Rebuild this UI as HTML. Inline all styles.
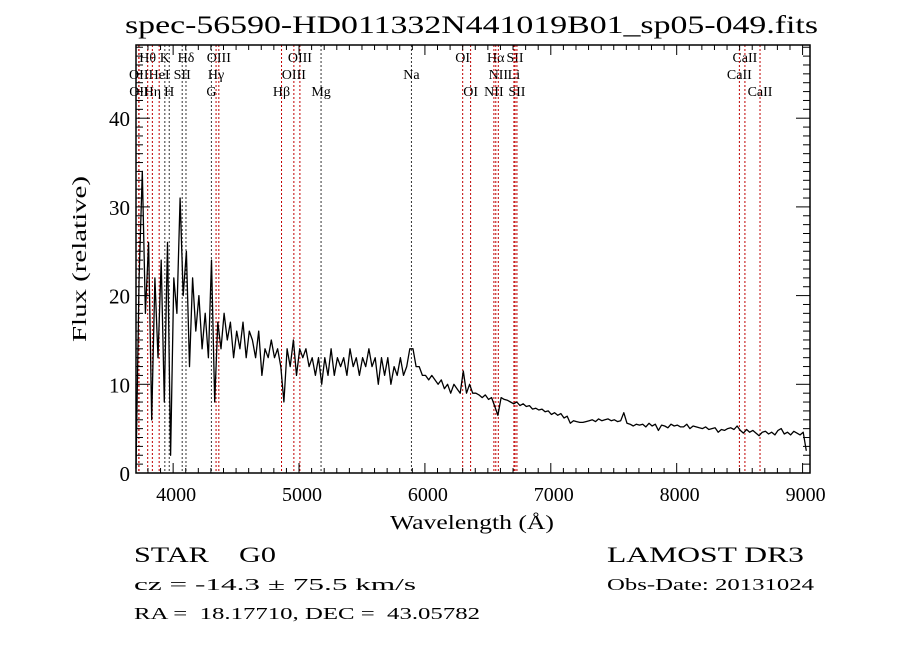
<!DOCTYPE html>
<html><head><meta charset="utf-8"><style>
html,body{margin:0;padding:0;background:#fff;}
svg{display:block;font-family:"Liberation Serif",serif;}
text{white-space:pre;}
</style></head><body>
<svg id="chart" width="900" height="649" viewBox="0 0 900 649" xmlns="http://www.w3.org/2000/svg" xml:space="preserve">
<rect x="0" y="0" width="900" height="649" fill="#fff"/>
<text x="125" y="33" font-size="25" textLength="693" lengthAdjust="spacingAndGlyphs">spec-56590-HD011332N441019B01_sp05-049.fits</text>
<g id="lines"></g>
<g id="series"></g>
<g id="axes"></g>
<text x="0" y="0" font-size="20" transform="translate(86,342) rotate(-90)" textLength="166" lengthAdjust="spacingAndGlyphs">Flux (relative)</text>
<text x="390" y="529" font-size="20" textLength="164" lengthAdjust="spacingAndGlyphs">Wavelength (Å)</text>
<text x="134" y="562" font-size="22" textLength="142" lengthAdjust="spacingAndGlyphs">STAR    G0</text>
<text x="134" y="590" font-size="17" textLength="282" lengthAdjust="spacingAndGlyphs">cz = -14.3 ± 75.5 km/s</text>
<text x="134" y="619" font-size="17" textLength="346" lengthAdjust="spacingAndGlyphs">RA =  18.17710, DEC =  43.05782</text>
<text x="607" y="562" font-size="22" textLength="197" lengthAdjust="spacingAndGlyphs">LAMOST DR3</text>
<text x="607" y="590" font-size="17" textLength="207" lengthAdjust="spacingAndGlyphs">Obs-Date: 20131024</text>
</svg>
<script>
const fluxStart = 3705;
const fluxStep = 25;
const fluxValues = [0.5,22,34,18,26,6,22,13,24,8,26,2,22,18,31,20,25,12,22,16,20,14,18,13,24,8,17,14,18,15,17,13,16,14,17,13,16,15,13,16,11,14,13,15,13,14,12,8,14,12,15,11,14,13,14,12,13,11,13,10,13,11,14,11,13,12,13,11,14,12,13,11,13,12,14,12,13,10,13,11,13,10,12,11,13,11,12,14,14,12,12,11,11,10.5,11,10.5,10,10.5,9.5,10,9,10,9.5,9,11.5,9,10,9,9,8.8,8.5,8.8,8.3,8.5,7.5,6.5,8.5,8.3,8.2,8,7.8,8,7.6,7.8,7.5,7.6,7.2,7.3,7.1,7.2,6.9,7,6.6,6.8,6.5,6.7,6.2,6.4,5.6,5.9,5.8,5.7,5.7,5.8,5.9,6.0,5.8,6.1,5.9,6.0,6.1,5.9,6.0,5.8,5.9,6.8,5.6,5.5,5.3,5.5,5.4,5.5,5.2,5.6,5.3,5.5,4.8,5.4,5.3,5.1,5.5,5.3,5.4,5.2,5.2,5.5,5.0,5.3,5.2,5.1,5.0,5.2,4.9,5.0,5.1,4.6,4.9,4.8,5.0,5.1,4.9,5.3,4.8,4.5,4.9,4.6,4.8,4.5,4.2,4.6,4.7,4.4,4.6,4.3,4.8,5.0,4.4,4.6,4.3,4.7,4.5,4.3,4.6,2.5];
const lineNames = ["Hθ","K","Hδ","OIII","OIII","OI","Hα","SII","CaII","OII","HeI","SII","Hγ","OIII","Na","NII","Li","CaII","OII","Hη","H","G","Hβ","Mg","OI","NII","SII","CaII"];
const lineWaves = [3798,3934,4102,4363,5007,6300,6563,6716,8542,3727,3889,4072,4341,4959,5893,6583,6707,8498,3729,3835,3969,4304,4861,5175,6363,6548,6731,8662];
const lineRows = [0,0,0,0,0,0,0,0,0,1,1,1,1,1,1,1,1,1,2,2,2,2,2,2,2,2,2,2];
const lineAbsorb = [0,1,1,0,0,0,0,0,0,0,0,1,0,0,1,0,0,0,0,0,1,1,0,1,0,0,0,0];
const xTicks = [4000,5000,6000,7000,8000,9000];
const yTicks = [0,10,20,30,40];

const NS="http://www.w3.org/2000/svg";
const L=136,R=810,T=45,B=473;
const X0=3705,X1=9059;
const x=w=>L+(w-X0)/(X1-X0)*(R-L);
const y=v=>473-v*8.87;
function mk(tag,attrs,parent){const e=document.createElementNS(NS,tag);for(const k in attrs)e.setAttribute(k,attrs[k]);parent.appendChild(e);return e;}

const lg=document.getElementById('lines');
const rowY=[62,79,96];
lineWaves.forEach((w,i)=>{
  const px=x(w);
  const ln=mk('line',{x1:px,y1:T,x2:px,y2:B,stroke:lineAbsorb[i]?'#333':'#c00000','stroke-width':1,'stroke-dasharray':'2,2'},lg);
  
  
  const t=mk('text',{x:px,y:rowY[lineRows[i]],'font-size':14,'text-anchor':'middle'},lg);
  t.textContent=lineNames[i];
  
  
});

const sg=document.getElementById('series');
let d='';
fluxValues.forEach((v,i)=>{d+=(i?'L':'M')+x(fluxStart+i*fluxStep).toFixed(1)+','+y(v).toFixed(1);});
const p=mk('path',{d:d,fill:'none',stroke:'#000','stroke-width':1.3,'stroke-linejoin':'round'},sg);



const ag=document.getElementById('axes');
const box=mk('rect',{x:L,y:T,width:R-L,height:B-T,fill:'none',stroke:'#000','stroke-width':1.5},ag);


for(let w=3800;w<=X1;w+=100){
  const px=x(w);const len=(w%1000===0)?10:5;
  mk('line',{x1:px,y1:B,x2:px,y2:B-len,stroke:'#000'},ag);
  mk('line',{x1:px,y1:T,x2:px,y2:T+len,stroke:'#000'},ag);
}
xTicks.forEach(w=>{
  const t=mk('text',{x:x(w)+3,y:501,'font-size':20,'text-anchor':'middle'},ag);
  t.textContent=w;
  
  
});
for(let v=0;v<=48;v++){
  const py=y(v);const len=(v%10===0)?14:7;
  mk('line',{x1:L,y1:py,x2:L+len,y2:py,stroke:'#000'},ag);
  mk('line',{x1:R,y1:py,x2:R-len,y2:py,stroke:'#000'},ag);
}
yTicks.forEach(v=>{
  const t=mk('text',{x:130,y:y(v)+8,'font-size':21,'text-anchor':'end'},ag);
  t.textContent=v;
  
  
});
</script>
</body></html>
